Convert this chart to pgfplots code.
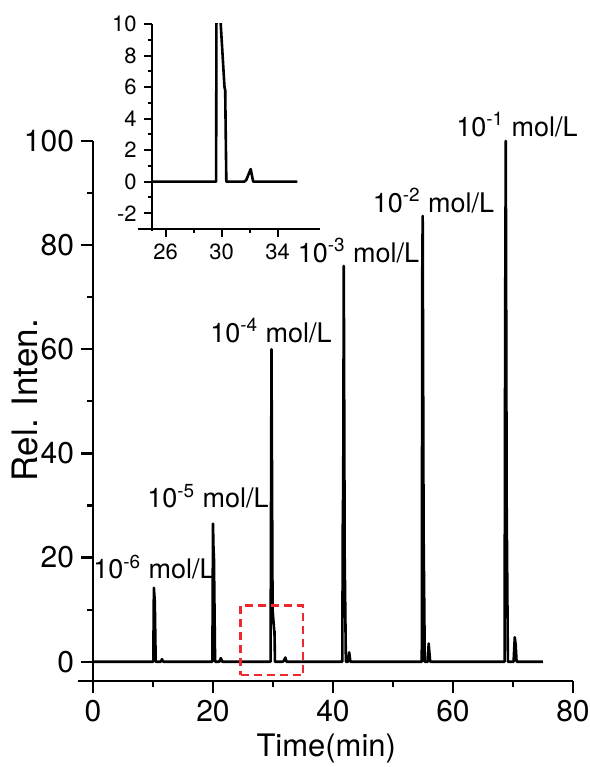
\documentclass[border=0pt]{standalone}
\usepackage{fontspec}
\setmainfont{TeX Gyre Heros}
\usepackage{pgfplots}
\usepackage{pgfplotstable}
\pgfplotsset{compat=1.18}

\definecolor{boxred}{RGB}{238,40,45}
\newcommand{\conc}[1]{10\textsuperscript{-#1} mol/L}

% chromatogram, time (min) vs relative intensity
\pgfplotstableread{
t y
0 0
10.05 0
10.15 14.2
10.3 11.5
10.45 0
11.3 0
11.5 0.5
11.7 0
19.9 0
20.0 26.5
20.1 20.8
20.15 20.8
20.35 0
21.05 0
21.3 0.7
21.55 0
25.0 0
29.6 0
29.75 60
29.93 10
30.2 6
30.25 5.8
30.33 0
31.6 0
31.75 0.1
32.07 0.8
32.25 0
35.4 0
41.55 0
41.65 31
41.7 31
41.8 76
41.95 20
42.15 0
42.5 0
42.7 1.8
42.9 0
54.8 0
54.88 75
54.95 85.6
55.1 25
55.3 0
55.8 0
55.95 3.5
56.05 2
56.2 0
68.6 0
68.7 67.5
68.8 100
68.95 30
69.15 0
70.1 0
70.3 4.7
70.45 3.2
70.6 0
75 0
}\chrom

\begin{document}
\begin{tikzpicture}
\useasboundingbox (-46.5pt,-43pt) rectangle (248.5pt,340.5pt);
\begin{axis}[
    name=main,
    scale only axis,
    width=240pt, height=270pt,
    xmin=0, xmax=80, ymin=-3.7, ymax=100,
    axis x line*=bottom, axis y line*=left,
    axis line style={line width=1.1pt},
    x axis line style={-, shorten <=-7.5pt},
    y axis line style={-, shorten <=-6pt},
    tick align=outside,
    major tick length=6pt, minor tick length=3pt,
    every tick/.style={black, line width=1.1pt},
    xtick={0,20,...,80}, minor xtick={10,30,50,70},
    ytick={0,20,...,100}, minor ytick={10,30,...,90},
    tick label style={font=\fontsize{15}{18}\selectfont},
    /pgf/number format/assume math mode=true,
    xlabel={Time(min)}, ylabel={Rel. Inten.},
    xlabel style={font=\fontsize{15.5}{18}\selectfont,
        at={(axis description cs:0.486,-0.1407)}, anchor=base},
    ylabel style={font=\fontsize{17.5}{20}\selectfont,
        at={(axis description cs:-0.1417,0.52)}, anchor=center},
    clip=false,
]
\addplot[black, line width=1.3pt, line join=round] table[x=t, y=y] {\chrom};
\addplot[boxred, line width=1.2pt, dash pattern=on 4pt off 2.5pt]
    coordinates {(24.6,-2.6) (35,-2.6) (35,10.8) (24.6,10.8) (24.6,-2.6)};
\node[anchor=base, font=\fontsize{13.5}{16}\selectfont] at (axis cs:10.17,15.96) {\conc{6}};
\node[anchor=base, font=\fontsize{13.5}{16}\selectfont] at (axis cs:19.17,29.6) {\conc{5}};
\node[anchor=base, font=\fontsize{13.5}{16}\selectfont] at (axis cs:29.67,61.35) {\conc{4}};
\node[anchor=base, font=\fontsize{13.5}{16}\selectfont] at (axis cs:44.25,76.7) {\conc{3}};
\node[anchor=base, font=\fontsize{13.5}{16}\selectfont] at (axis cs:56.75,86.3) {\conc{2}};
\node[anchor=base, font=\fontsize{13.5}{16}\selectfont] at (axis cs:70.67,100.96) {\conc{1}};
\end{axis}

\begin{axis}[
    at={(29.35pt,226pt)}, anchor=south west,
    scale only axis,
    width=84pt, height=102.5pt,
    xmin=25, xmax=37, ymin=-3, ymax=10,
    axis x line*=bottom, axis y line*=left,
    axis line style={line width=1pt},
    x axis line style={-, shorten <=-7pt},
    y axis line style={-, shorten <=-1pt},
    tick align=outside,
    major tick length=4pt, minor tick length=2pt,
    every tick/.style={black, line width=1pt},
    xtick={26,30,34}, minor xtick={28,32},
    ytick={-2,0,...,10}, minor ytick={-1,1,...,9},
    tick label style={font=\fontsize{11}{13}\selectfont},
    /pgf/number format/assume math mode=true,
]
\addplot[black, line width=1.3pt, line join=round, restrict x to domain=25:35.4]
    table[x=t, y=y] {\chrom};
\end{axis}
\end{tikzpicture}
\end{document}
